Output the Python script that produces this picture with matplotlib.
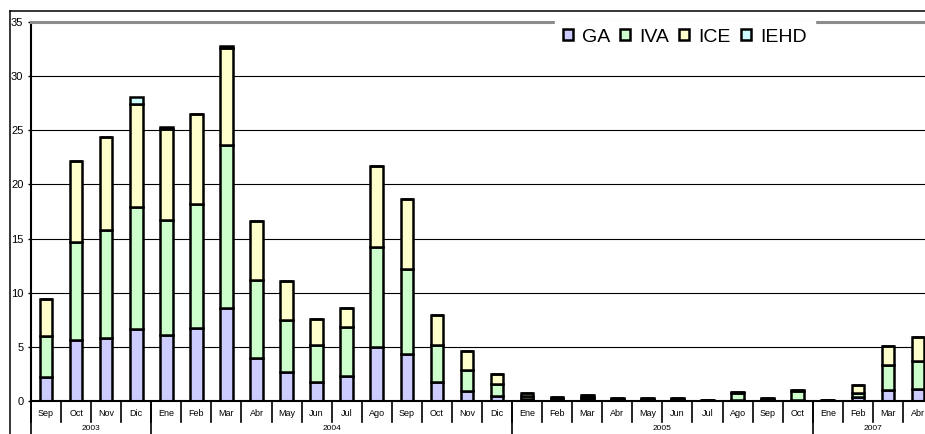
import matplotlib
matplotlib.use("Agg")
import matplotlib.pyplot as plt
from matplotlib.lines import Line2D
from matplotlib.patches import Patch

plt.rcParams['font.family'] = ['Liberation Sans', 'DejaVu Sans']

# categories
months = ['Sep', 'Oct', 'Nov', 'Dic',
          'Ene', 'Feb', 'Mar', 'Abr', 'May', 'Jun', 'Jul', 'Ago', 'Sep', 'Oct', 'Nov', 'Dic',
          'Ene', 'Feb', 'Mar', 'Abr', 'May', 'Jun', 'Jul', 'Ago', 'Sep', 'Oct',
          'Ene', 'Feb', 'Mar', 'Abr']
years = ['2003', '2004', '2005', '2007']
year_sizes = [4, 12, 10, 4]

# stacked series
ga = [2.2, 5.6, 5.85, 6.65,
      6.1, 6.7, 8.6, 4.0, 2.65, 1.75, 2.35, 5.0, 4.3, 1.75, 0.95, 0.5,
      0.15, 0.1, 0.15, 0.05, 0.05, 0.05, 0.0, 0.1, 0.05, 0.1,
      0.0, 0.37, 1.05, 1.1]
iva = [3.8, 9.1, 9.95, 11.25,
       10.6, 11.5, 15.0, 7.2, 4.8, 3.4, 4.45, 9.2, 7.85, 3.4, 1.95, 1.1,
       0.3, 0.2, 0.25, 0.15, 0.15, 0.15, 0.1, 0.6, 0.15, 0.8,
       0.1, 0.37, 2.25, 2.6]
ice = [3.4, 7.5, 8.6, 9.5,
       8.45, 8.3, 9.0, 5.4, 3.65, 2.4, 1.75, 7.5, 6.55, 2.83, 1.7, 0.9,
       0.25, 0.1, 0.15, 0.05, 0.05, 0.05, 0.0, 0.15, 0.05, 0.1,
       0.0, 0.7, 1.77, 2.2]
iehd = [0, 0, 0, 0.7,
        0.15, 0, 0.15, 0, 0, 0, 0, 0, 0, 0, 0, 0,
        0, 0, 0, 0, 0, 0, 0, 0, 0, 0,
        0, 0, 0, 0]

series = [('GA', ga, '#ccccff'), ('IVA', iva, '#ccffcc'),
          ('ICE', ice, '#ffffcc'), ('IEHD', iehd, '#ccffff')]

W, H = 925, 434
fig = plt.figure(figsize=(W / 100, H / 100), dpi=100)
ax = fig.add_axes([31 / W, 33 / H, 902 / W, 379 / H])

x = list(range(len(months)))
bottom = [0.0] * len(x)
for name, vals, col in series:
    ax.bar(x, vals, width=0.42, bottom=bottom, color=col, edgecolor='black',
           linewidth=1.8, zorder=3, label=name)
    bottom = [b + v for b, v in zip(bottom, vals)]

ax.set_xlim(-0.5, len(x) - 0.5)
ax.set_ylim(0, 35)
ax.set_yticks(range(0, 36, 5))
ax.tick_params(axis='y', length=2.5, width=1, pad=3, labelsize=8)
ax.set_xticks([])
ax.yaxis.grid(True, color='black', linewidth=0.8, zorder=0)
ax.set_axisbelow(True)
ax.spines['right'].set_visible(False)
ax.spines['top'].set_color('#8c8c8c')
ax.spines['top'].set_linewidth(2.2)
ax.spines['left'].set_linewidth(1.5)
ax.spines['bottom'].set_linewidth(1.5)
ax.spines['bottom'].set_zorder(4)

# grouped category axis
tr = ax.get_xaxis_transform()
px = 1 / 379
for i, m in enumerate(months):
    ax.text(i, -12 * px, m, transform=tr, ha='center', va='center', fontsize=6.5)
    ax.plot([i - 0.5, i - 0.5], [0, -21 * px], transform=tr, color='black',
            linewidth=1.2, clip_on=False)
start = 0
for yr, n in zip(years, year_sizes):
    ax.plot([start - 0.5, start - 0.5], [0, -40 * px], transform=tr, color='black',
            linewidth=1.2, clip_on=False)
    ax.text(start + (n - 1) / 2, -28 * px, yr, transform=tr, ha='center',
            va='center', fontsize=6)
    start += n

# chart area border (left and top)
fig.add_artist(Line2D([10 / W, 10 / W], [0, 1 - 11 / H], color='black', linewidth=1.1))
fig.add_artist(Line2D([10 / W, 1], [1 - 11 / H, 1 - 11 / H], color='black', linewidth=1.1))

handles = [Patch(facecolor=c, edgecolor='black', linewidth=1.8) for _, _, c in series]
leg = ax.legend(handles, [s[0] for s in series], loc='upper left',
                bbox_to_anchor=(555 / W, 1 - 21 / H), bbox_transform=fig.transFigure,
                ncol=4, fontsize=14, handlelength=0.5, handleheight=0.5,
                handletextpad=0.5, columnspacing=0.5, borderpad=0.4,
                borderaxespad=0, frameon=True, fancybox=False)
leg.get_frame().set_facecolor('white')
leg.get_frame().set_edgecolor('white')
leg.get_frame().set_alpha(1)

fig.savefig('out.png', dpi=100)
